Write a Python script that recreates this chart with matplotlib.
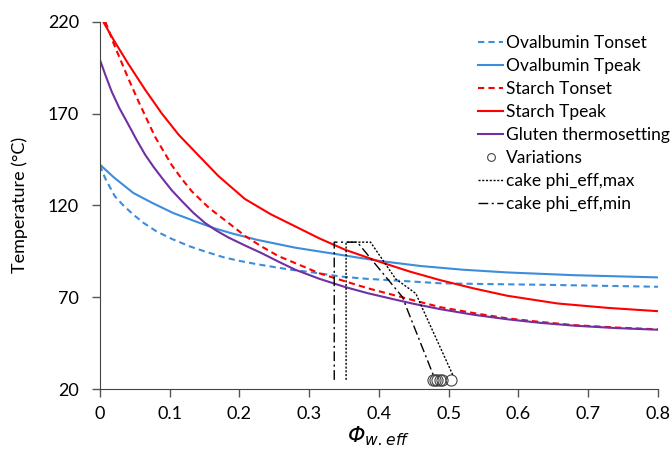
import numpy as np
import matplotlib
matplotlib.use("Agg")
import matplotlib.pyplot as plt

plt.rcParams['font.family'] = ['Lato', 'DejaVu Sans']
plt.rcParams['mathtext.fontset'] = 'custom'
# Las mayúsculas griegas usan la fuente "rm": ponerla en cursiva para la Φ
plt.rcParams['mathtext.rm'] = 'DejaVu Sans:italic'
plt.rcParams['mathtext.it'] = 'DejaVu Sans:italic'

# datos (phi_w,eff vs temperatura)
ova_on_x = [0, 0.008, 0.0215, 0.033, 0.048, 0.063, 0.081, 0.103, 0.129, 0.15, 0.177, 0.2,
            0.225, 0.273, 0.3, 0.345, 0.38, 0.42, 0.488, 0.55, 0.632, 0.8]
ova_on_y = [142, 134.5, 125, 120.3, 115, 110.4, 105.9, 101.8, 97.7, 95, 91.8, 89.8,
            88, 85, 83.8, 81.3, 80.1, 79.2, 77.6, 77.2, 76.8, 75.7]

ova_pk_x = [0, 0.02, 0.048, 0.075, 0.105, 0.135, 0.163, 0.19, 0.225, 0.28, 0.345, 0.40,
            0.46, 0.52, 0.584, 0.68, 0.8]
ova_pk_y = [142.3, 135.3, 126.8, 121.4, 115.9, 111.6, 107.7, 104.7, 101.3, 97, 93.1, 89.8,
            87, 85, 83.5, 82, 80.8]

sta_on_x = [0.008, 0.02, 0.041, 0.055, 0.079, 0.103, 0.117, 0.132, 0.157, 0.184, 0.208,
            0.232, 0.256, 0.28, 0.315, 0.352, 0.385, 0.42, 0.455, 0.488, 0.54, 0.584,
            0.63, 0.68, 0.74, 0.8]
sta_on_y = [220, 208, 189, 177, 157.5, 142, 134.7, 127.6, 118.5, 110.6, 103.4,
            97.6, 92.4, 88.6, 83, 78.6, 74.8, 71.3, 67.8, 64.6, 61.1, 58.5,
            56.6, 54.8, 53.5, 52.5]

sta_pk_x = [0.005, 0.02, 0.041, 0.065, 0.089, 0.113, 0.137, 0.17, 0.208, 0.245, 0.28,
            0.315, 0.352, 0.405, 0.445, 0.488, 0.536, 0.584, 0.656, 0.728, 0.8]
sta_pk_y = [220, 210, 197, 183, 170, 158.5, 149, 136, 123.5, 115.2, 108.6,
            102, 95.8, 88.8, 83.9, 79.3, 74.8, 70.8, 66.6, 64.2, 62.4]

glu_x = [0, 0.008, 0.017, 0.028, 0.041, 0.053, 0.065, 0.077, 0.089, 0.103, 0.118, 0.134,
         0.151, 0.167, 0.184, 0.208, 0.232, 0.256, 0.28, 0.315, 0.352, 0.385, 0.42,
         0.45, 0.488, 0.535, 0.584, 0.63, 0.68, 0.74, 0.8]
glu_y = [199.5, 191, 182, 173, 164, 155.5, 147.6, 141, 135, 128.3, 122.2, 116,
         110.4, 106.3, 102.6, 98.2, 94, 89.4, 85, 80, 75.5, 72.1, 69,
         66.4, 63.5, 60.5, 58, 56.1, 54.5, 53.2, 52.3]

var_x = [0.478, 0.481, 0.484, 0.487, 0.490, 0.504]
var_y = [25, 25, 25, 25, 25, 25]

cake_max_x = [0.353, 0.353, 0.388, 0.424, 0.453, 0.460, 0.506]
cake_max_y = [25, 100, 100, 80, 72, 66, 27.6]

cake_min_x = [0.336, 0.336, 0.369, 0.434, 0.441, 0.478]
cake_min_y = [25, 100, 100, 70, 63, 27.6]

azul = "#3C8DDC"
rojo = "#FF0000"
morado = "#7030A0"

fig, ax = plt.subplots(figsize=(6.7, 4.55), dpi=100)
fig.subplots_adjust(left=0.149, right=0.982, top=0.952, bottom=0.145)

ax.plot(ova_on_x, ova_on_y, color=azul, lw=1.5, ls=(0, (3, 2)), label="Ovalbumin Tonset")
ax.plot(ova_pk_x, ova_pk_y, color=azul, lw=1.5, label="Ovalbumin Tpeak")
ax.plot(sta_on_x, sta_on_y, color=rojo, lw=1.5, ls=(0, (3, 2)), label="Starch Tonset")
ax.plot(sta_pk_x, sta_pk_y, color=rojo, lw=1.5, label="Starch Tpeak")
ax.plot(glu_x, glu_y, color=morado, lw=1.5, label="Gluten thermosetting")
ax.plot(var_x, var_y, ls="none", marker="o", ms=8, mfc="none", mec="#444444", mew=0.8,
        label="Variations")
ax.plot(cake_max_x, cake_max_y, color="black", lw=1, ls=(0, (1.5, 1.2)), label="cake phi_eff,max")
ax.plot(cake_min_x, cake_min_y, color="black", lw=1, ls=(0, (7, 2.5, 1.5, 2.5)), label="cake phi_eff,min")

ax.set_xlim(0, 0.8)
ax.set_ylim(20, 220)
ax.set_xticks(np.arange(0, 0.81, 0.1))
ax.set_xticklabels(["0", "0.1", "0.2", "0.3", "0.4", "0.5", "0.6", "0.7", "0.8"])
ax.set_yticks([20, 70, 120, 170, 220])
ax.tick_params(labelsize=13, direction="out", length=6, width=1, color="#555555")
ax.tick_params(axis="y", pad=9)
ax.tick_params(axis="x", pad=6)
ax.spines["top"].set_visible(False)
ax.spines["right"].set_visible(False)
ax.spines["left"].set_color("#444444")
ax.spines["bottom"].set_color("#444444")

ax.set_xlabel(r"$\Phi_{w.eff}$", fontsize=16, labelpad=2)
ax.set_ylabel("Temperature (°C)", fontsize=13, labelpad=14)

leg = ax.legend(loc="upper left", bbox_to_anchor=(0.666, 0.982), borderaxespad=0,
                frameon=False, fontsize=12.5, handlelength=1.4, handletextpad=0.2,
                labelspacing=0.4, markerscale=0.7)

plt.savefig("out.png", dpi=100)
